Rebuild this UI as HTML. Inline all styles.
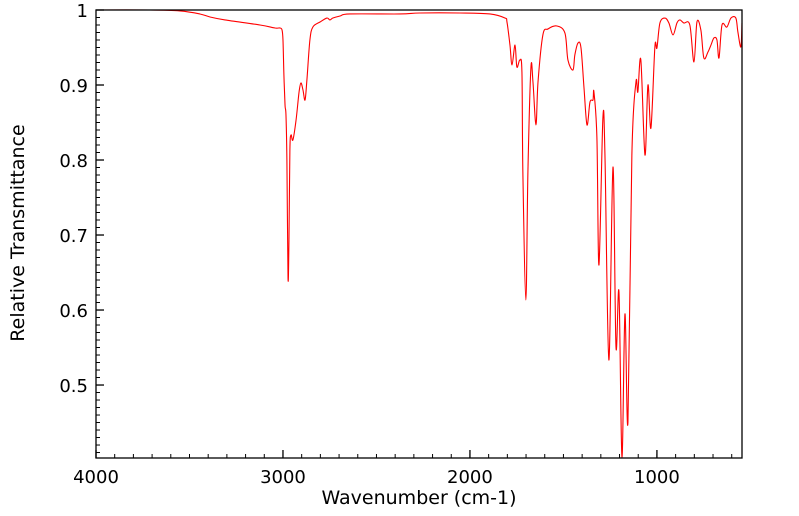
<!DOCTYPE html>
<html><head><meta charset="utf-8"><style>
body{margin:0;background:#fff;width:799px;height:516px;overflow:hidden}
svg{display:block;font-family:"DejaVu Sans","Liberation Sans",sans-serif}
</style></head><body>
<svg id="chart" width="799" height="516">
<g id="grid"></g>
<path id="line" fill="none" stroke="#ff0000" stroke-width="1.1"></path>
<rect x="96" y="10" width="646" height="448" fill="none" stroke="#000" stroke-width="1.3"></rect>
<g id="axes"></g>
<text x="419" y="504" text-anchor="middle" font-size="19">Wavenumber (cm-1)</text>
<text transform="translate(24,233) rotate(-90)" text-anchor="middle" font-size="19">Relative Transmittance</text>
</svg>
<script>
const wavenumbers=[4000,3711,3551,3444,3390,3310,3123,3043,3016,3005,3000,2995,2989,2984,2979,2973,2968,2963,2957,2947,2930,2914,2904,2893,2882,2872,2856,2840,2802,2765,2749,2733,2695,2642,2374,2267,2053,1893,1813,1802,1786,1775,1759,1749,1733,1722,1717,1701,1690,1674,1663,1647,1636,1610,1583,1535,1492,1476,1449,1439,1422,1406,1390,1374,1358,1342,1337,1321,1310,1289,1278,1257,1235,1219,1203,1187,1171,1155,1134,1112,1102,1086,1064,1048,1032,1011,1000,984,957,936,914,893,877,856,824,802,786,765,749,727,711,695,679,668,652,626,604,578,567,551,545];
const transmittance=[1,1,.9987,.9947,.9907,.9867,.98,.976,.976,.9733,.96,.9133,.8733,.86,.8,.6427,.6933,.8133,.8333,.8267,.8533,.8907,.9027,.8933,.88,.9067,.96,.9773,.984,.9893,.9867,.9893,.992,.9947,.9947,.996,.996,.9947,.9893,.984,.9533,.9267,.9533,.924,.9333,.9173,.784,.6133,.784,.9227,.904,.8467,.904,.9667,.9747,.9787,.9693,.9333,.92,.94,.956,.9493,.896,.8467,.8773,.88,.8907,.8293,.66,.856,.8067,.5333,.7907,.5507,.624,.404,.5947,.4507,.8067,.904,.8907,.9333,.8067,.9,.8427,.9507,.9493,.9827,.9893,.9827,.9667,.9827,.9867,.9827,.98,.9307,.984,.9733,.9360,.944,.9533,.9627,.96,.936,.98,.9773,.9893,.9893,.9707,.9507,.9827];
const xTickValues=[4000,3000,2000,1000];
const yTickValues=[0.5,0.6,0.7,0.8,0.9,1];
const X0=96,X1=742,Y0=10,Y1=458,WMAX=4000,WMIN=545,TMAX=1,TMIN=0.4027;
const sx=w=>X0+(WMAX-w)/(WMAX-WMIN)*(X1-X0);
const sy=t=>Y0+(TMAX-t)/(TMAX-TMIN)*(Y1-Y0);
const NS='http://www.w3.org/2000/svg';
const axes=document.getElementById('axes');
function mk(tag,attrs){const e=document.createElementNS(NS,tag);for(const k in attrs)e.setAttribute(k,attrs[k]);return e;}
const pts=wavenumbers.map((w,i)=>[sx(w),sy(transmittance[i])]);
let d='M'+pts[0][0].toFixed(2)+','+pts[0][1].toFixed(2);
for(let i=0;i<pts.length-1;i++){
 const p0=pts[Math.max(0,i-1)],p1=pts[i],p2=pts[i+1],p3=pts[Math.min(pts.length-1,i+2)];
 const c1=[p1[0]+(p2[0]-p0[0])/6,p1[1]+(p2[1]-p0[1])/6];
 const c2=[p2[0]-(p3[0]-p1[0])/6,p2[1]-(p3[1]-p1[1])/6];
 d+=' C'+c1[0].toFixed(2)+','+c1[1].toFixed(2)+' '+c2[0].toFixed(2)+','+c2[1].toFixed(2)+' '+p2[0].toFixed(2)+','+p2[1].toFixed(2);
}
document.getElementById('line').setAttribute('d',d);
for(let w=3900;w>WMIN;w-=100){
 const t=mk('line',{x1:sx(w),x2:sx(w),y1:Y1,y2:Y1-4,stroke:'#000','stroke-width':1});
 
 
 axes.appendChild(t);
}
xTickValues.forEach(v=>{
 const t=mk('line',{x1:sx(v),x2:sx(v),y1:Y1,y2:Y1-8,stroke:'#000','stroke-width':1.3});
 
 
 axes.appendChild(t);
 const l=mk('text',{x:sx(v),y:483,'text-anchor':'middle','font-size':18});
 l.textContent=v;
 
 
 axes.appendChild(l);
});
for(let k=41;k<100;k++){
 const v=k/100;
 const t=mk('line',{x1:X0,x2:X0+4,y1:sy(v),y2:sy(v),stroke:'#000','stroke-width':1});
 
 
 axes.appendChild(t);
}
yTickValues.forEach(v=>{
 const t=mk('line',{x1:X0,x2:X0+8,y1:sy(v),y2:sy(v),stroke:'#000','stroke-width':1.3});
 
 
 axes.appendChild(t);
 const l=mk('text',{x:88,y:sy(v)+7,'text-anchor':'end','font-size':18});
 l.textContent=v===1?'1':v.toFixed(1);
 
 
 axes.appendChild(l);
});
</script>
</body></html>
